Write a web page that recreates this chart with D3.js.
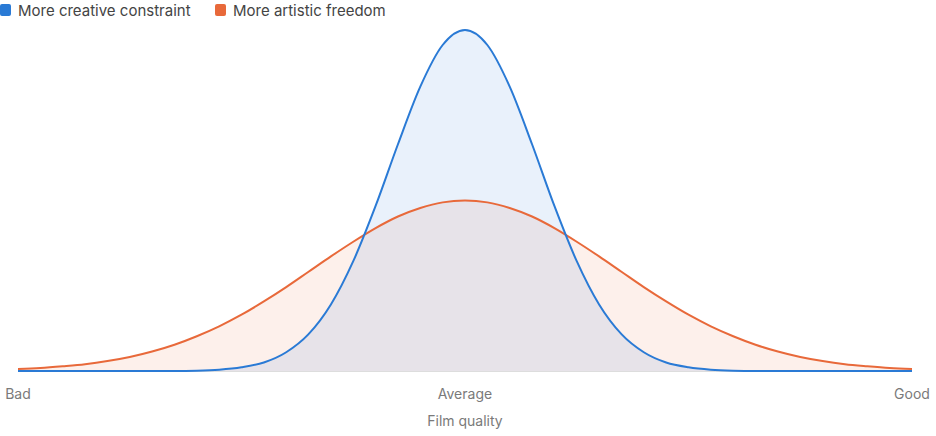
<!DOCTYPE html>
<html>
<head>
<meta charset="utf-8">
<script src="https://cdn.jsdelivr.net/npm/d3@7"></script>
<style>
  body { margin: 0; background: #fff; font-family: Inter, "Liberation Sans", Arial, sans-serif; }
  .tick-label { fill: #7a7a7a; font-size: 14px; }
  .axis-title { fill: #7a7a7a; font-size: 14px; }
  .legend-label { fill: #444; font-size: 15px; }
</style>
</head>
<body>
<div id="chart"></div>
<script>
// x positions along the quality scale (0 = Bad, 100 = Good)
const quality = d3.range(0, 100.01, 2.5);

// curve heights (relative units)
const constraint = [
  0, 0, 0, 0, 0, 0, 0, 0, 0.1, 0.4,
  1.1, 2.5, 5.5, 10.8, 19.5, 32.2, 48.4, 66.5, 83.4, 95.6,
  100, 95.6, 83.4, 66.5, 48.4, 32.2, 19.5, 10.8, 5.5, 2.5,
  1.1, 0.4, 0.1, 0, 0, 0, 0, 0, 0, 0, 0
];
const freedom = [
  0.6, 0.9, 1.4, 2.0, 2.9, 4.1, 5.7, 7.7, 10.2, 13.1,
  16.5, 20.4, 24.6, 29.1, 33.6, 37.9, 41.9, 45.3, 47.8, 49.45,
  50, 49.45, 47.8, 45.3, 41.9, 37.9, 33.6, 29.1, 24.6, 20.4,
  16.5, 13.1, 10.2, 7.7, 5.7, 4.1, 2.9, 2.0, 1.4, 0.9, 0.6
];

const tickValues = [0, 50, 100];
const tickLabels = ['Bad', 'Average', 'Good'];

const seriesNames = ['More creative constraint', 'More artistic freedom'];
const seriesColors = ['#2a7ad5', '#e8693a'];

const width = 936, height = 436;
const margin = {top: 30, right: 24, bottom: 65, left: 18};

const svg = d3.select('#chart').append('svg')
    .attr('width', width)
    .attr('height', height);

const x = d3.scaleLinear()
    .domain([0, 100])
    .range([margin.left, width - margin.right]);

const y = d3.scaleLinear()
    .domain([0, 100])
    .range([height - margin.bottom, margin.top]);

const series = [
  {name: seriesNames[1], color: seriesColors[1], values: freedom},
  {name: seriesNames[0], color: seriesColors[0], values: constraint}
];

const area = d3.area()
    .x((d, i) => x(quality[i]))
    .y0(y(0))
    .y1(d => y(d))
    .curve(d3.curveMonotoneX);

const line = d3.line()
    .x((d, i) => x(quality[i]))
    .y(d => y(d))
    .curve(d3.curveMonotoneX);

// fills first, then strokes on top
svg.selectAll('.area')
    .data(series)
  .join('path')
    .attr('class', 'area')
    .attr('d', d => area(d.values))
    .attr('fill', d => d.color)
    .attr('fill-opacity', 0.1);

// baseline
svg.append('line')
    .attr('x1', x(0))
    .attr('x2', x(100))
    .attr('y1', y(0) + 0.5)
    .attr('y2', y(0) + 0.5)
    .attr('stroke', '#ddd')
    .attr('stroke-width', 1);

svg.selectAll('.line')
    .data(series)
  .join('path')
    .attr('class', 'line')
    .attr('d', d => line(d.values))
    .attr('fill', 'none')
    .attr('stroke', d => d.color)
    .attr('stroke-width', 2);

// x axis labels
svg.selectAll('.tick-label')
    .data(tickValues)
  .join('text')
    .attr('class', 'tick-label')
    .attr('x', d => x(d))
    .attr('y', y(0) + 28)
    .attr('text-anchor', 'middle')
    .text((d, i) => tickLabels[i]);

svg.append('text')
    .attr('class', 'axis-title')
    .attr('x', x(50))
    .attr('y', y(0) + 55)
    .attr('text-anchor', 'middle')
    .text('Film quality');

// legend
const legend = svg.append('g')
    .attr('transform', 'translate(0,4)');

const legendX = [0, 215];
const items = legend.selectAll('.legend-item')
    .data(seriesNames)
  .join('g')
    .attr('class', 'legend-item')
    .attr('transform', (d, i) => `translate(${legendX[i]},0)`);

items.append('rect')
    .attr('width', 11)
    .attr('height', 12)
    .attr('rx', 2)
    .attr('fill', (d, i) => seriesColors[i]);

items.append('text')
    .attr('class', 'legend-label')
    .attr('x', 18)
    .attr('y', 11.5)
    .text(d => d);
</script>
</body>
</html>
